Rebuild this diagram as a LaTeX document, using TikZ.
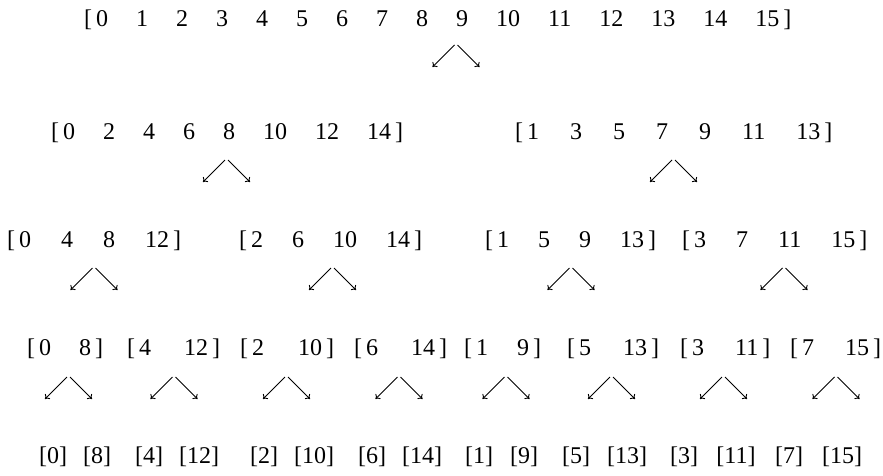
\documentclass[tikz,border=0pt]{standalone}
\usepackage{fontspec}
\setmainfont{Liberation Serif}
\usetikzlibrary{arrows.meta}
\newlength\gw
\newcommand\xgap{\hspace{\gw}}
\begin{document}
\begin{tikzpicture}[x=1pt,y=-1pt,
  grp/.style={anchor=base west,inner sep=0pt,font=\fontsize{24}{28}\selectfont},
  leaf/.style={anchor=base,inner sep=0pt,font=\fontsize{24}{28}\selectfont},
  arr/.style={-{To[length=4pt,width=7pt]},line width=0.9pt}]
\fill[white] (0,0) rectangle (883,475);
\useasboundingbox (0,0) rectangle (883,475);
% row 1
\node[grp] (r1) at (84,26) {\setlength\gw{28pt}[\,0\xgap 1\xgap 2\xgap 3\xgap 4\xgap 5\xgap 6\xgap 7\xgap 8\xgap 9\xgap 10\xgap 11\xgap 12\xgap 13\xgap 14\xgap 15\,]};
% row 2
\node[grp] (r2a) at (51,139) {\setlength\gw{28pt}[\,0\xgap 2\xgap 4\xgap 6\xgap 8\xgap 10\xgap 12\xgap 14\,]};
\node[grp] (r2b) at (515,139) {\setlength\gw{31pt}[\,1\xgap 3\xgap 5\xgap 7\xgap 9\xgap 11\xgap 13\,]};
% row 3
\node[grp] (r3a) at (7,247) {\setlength\gw{30pt}[\,0\xgap 4\xgap 8\xgap 12\,]};
\node[grp] (r3b) at (239,247) {\setlength\gw{29pt}[\,2\xgap 6\xgap 10\xgap 14\,]};
\node[grp] (r3c) at (485,247) {\setlength\gw{29pt}[\,1\xgap 5\xgap 9\xgap 13\,]};
\node[grp] (r3d) at (682,247) {\setlength\gw{30pt}[\,3\xgap 7\xgap 11\xgap 15\,]};
% row 4
\node[grp] (r4a) at (27,355) {\setlength\gw{28pt}[\,0\xgap 8\,]};
\node[grp] (r4b) at (127,355) {\setlength\gw{33pt}[\,4\xgap 12\,]};
\node[grp] (r4c) at (240,355) {\setlength\gw{34pt}[\,2\xgap 10\,]};
\node[grp] (r4d) at (354,355) {\setlength\gw{33pt}[\,6\xgap 14\,]};
\node[grp] (r4e) at (464,355) {\setlength\gw{29pt}[\,1\xgap 9\,]};
\node[grp] (r4f) at (567,355) {\setlength\gw{32pt}[\,5\xgap 13\,]};
\node[grp] (r4g) at (680,355) {\setlength\gw{31pt}[\,3\xgap 11\,]};
\node[grp] (r4h) at (790,355) {\setlength\gw{31pt}[\,7\xgap 15\,]};
% row 5
\foreach \x/\t [count=\i] in {53/0,97/8,149/4,199/12,264/2,314/10,372/6,422/14,479/1,524/9,576/5,627/13,684/3,736/11,789/7,842/15}
  \node[leaf] (l\i) at (\x,463) {[\t]};
% arrow pairs
\coordinate (a1) at (456,45);
\coordinate (a2a) at (226.5,160);
\coordinate (a2b) at (673.5,160);
\coordinate (a3a) at (94,268);
\coordinate (a3b) at (332.5,268);
\coordinate (a3c) at (571,268);
\coordinate (a3d) at (784,268);
\coordinate (a4a) at (68.5,377);
\coordinate (a4b) at (174,377);
\coordinate (a4c) at (286.5,377);
\coordinate (a4d) at (399,377);
\coordinate (a4e) at (506,377);
\coordinate (a4f) at (611.5,377);
\coordinate (a4g) at (723.5,377);
\coordinate (a4h) at (836,377);
\foreach \c in {a1,a2a,a2b,a3a,a3b,a3c,a3d,a4a,a4b,a4c,a4d,a4e,a4f,a4g,a4h}{
  \draw[arr] ([xshift=-1.5pt]\c) -- ++(-22,22);
  \draw[arr] ([xshift=1.5pt]\c) -- ++(22,22);
}
\end{tikzpicture}
\end{document}
